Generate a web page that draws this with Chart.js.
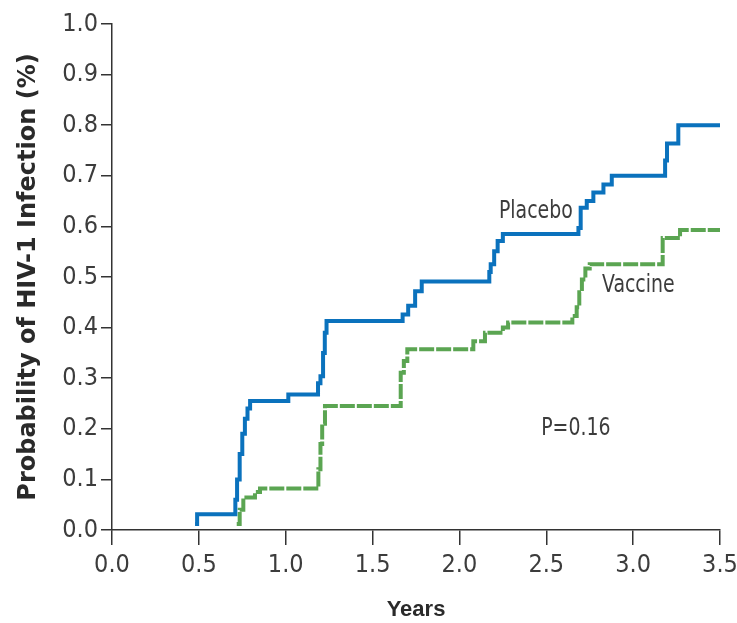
<!DOCTYPE html>
<html>
<head>
<meta charset="utf-8">
<script src="https://cdn.jsdelivr.net/npm/chart.js@4/dist/chart.umd.min.js"></script>
<style>
  html, body { margin: 0; padding: 0; background: #ffffff; }
  #wrap { width: 737px; height: 623px; position: relative; }
</style>
</head>
<body>
<div id="wrap"><canvas id="km"></canvas></div>
<script>
// Cumulative probability of HIV-1 infection (step curves), years since enrollment
const placeboYears = [0.478, 0.49, 0.71, 0.72, 0.735, 0.75, 0.765, 0.78, 0.795, 1.015, 1.186, 1.2, 1.215, 1.225, 1.235,
  1.673, 1.705, 1.745, 1.783, 2.172, 2.18, 2.2, 2.22, 2.25, 2.685, 2.698, 2.733, 2.771, 2.829, 2.877,
  3.184, 3.195, 3.26, 3.5];
const placeboProb = [0.012, 0.031, 0.06, 0.10, 0.15, 0.19, 0.22, 0.24, 0.255, 0.268, 0.29, 0.304, 0.35, 0.39, 0.413,
  0.426, 0.443, 0.472, 0.491, 0.51, 0.525, 0.551, 0.571, 0.585, 0.597, 0.637, 0.65, 0.667, 0.683, 0.70,
  0.73, 0.764, 0.80, 0.80];

const vaccineYears = [0.718, 0.735, 0.756, 0.823, 0.852, 1.188, 1.2, 1.21, 1.226, 1.662, 1.68, 1.70,
  2.08, 2.147, 2.25, 2.28, 2.65, 2.675, 2.69, 2.705, 2.725, 2.75, 3.17, 3.27, 3.5];
const vaccineProb = [0.012, 0.04, 0.064, 0.075, 0.082, 0.12, 0.17, 0.21, 0.245, 0.311, 0.334, 0.357,
  0.373, 0.39, 0.40, 0.41, 0.423, 0.44, 0.47, 0.495, 0.517, 0.525, 0.577, 0.593, 0.593];

const xTickValues = [0, 0.5, 1.0, 1.5, 2.0, 2.5, 3.0, 3.5];
const yTickValues = [0, 0.1, 0.2, 0.3, 0.4, 0.5, 0.6, 0.7, 0.8, 0.9, 1.0];

// In-plot text labels, positioned in data units
const curveLabels = [
  { text: 'Placebo', x: 2.44, y: 0.629 },
  { text: 'Vaccine', x: 3.03, y: 0.484 },
  { text: 'P=0.16', x: 2.67, y: 0.20 }
];

const toPoints = (xs, ys) => xs.map((x, i) => ({ x: x, y: ys[i] }));

const AXIS = '#333333';
const TEXT = '#3c3c3c';
const NARROW = '"DejaVu Sans Condensed", "Liberation Sans Narrow", sans-serif';

const textLabels = {
  id: 'textLabels',
  afterDatasetsDraw(chart) {
    const { ctx, scales: { x, y } } = chart;
    curveLabels.forEach(l => {
      const px = x.getPixelForValue(l.x);
      const py = y.getPixelForValue(l.y);
      ctx.save();
      ctx.translate(px, py);
      ctx.scale(0.84, 1);   // tall, narrow lettering
      ctx.fillStyle = TEXT;
      ctx.font = '25px ' + NARROW;
      ctx.textAlign = 'center';
      ctx.textBaseline = 'middle';
      ctx.fillText(l.text, 0, 0);
      ctx.restore();
    });
  }
};

new Chart(document.getElementById('km'), {
  type: 'line',
  data: {
    datasets: [
      {
        label: 'Placebo',
        data: toPoints(placeboYears, placeboProb),
        borderColor: '#0b72bd',
        borderWidth: 4,
        stepped: true,
        pointRadius: 0,
        fill: false,
        borderCapStyle: 'butt',
        borderJoinStyle: 'miter'
      },
      {
        label: 'Vaccine',
        data: toPoints(vaccineYears, vaccineProb),
        borderColor: '#5ba552',
        borderWidth: 4,
        borderDash: [15, 2],
        stepped: true,
        pointRadius: 0,
        fill: false,
        borderCapStyle: 'butt',
        borderJoinStyle: 'miter'
      }
    ]
  },
  options: {
    responsive: true,
    maintainAspectRatio: false,
    animation: false,
    layout: { padding: { top: 24, right: 17, bottom: 0, left: 0 } },
    plugins: {
      legend: { display: false },
      tooltip: { enabled: false }
    },
    scales: {
      x: {
        type: 'linear',
        min: 0,
        max: 3.5,
        afterBuildTicks: s => { s.ticks = xTickValues.map(v => ({ value: v })); },
        afterFit: s => { s.height = 93; s.paddingRight = 0; s.paddingLeft = 0; },
        ticks: {
          color: TEXT,
          font: { family: NARROW, size: 25 },
          padding: 5,
          maxRotation: 0,
          autoSkip: false,
          callback: v => v.toFixed(1)
        },
        grid: { display: true, drawOnChartArea: false, drawTicks: true, tickLength: 15, color: AXIS, lineWidth: 1.5 },
        border: { display: true, color: AXIS, width: 1.5 },
        title: {
          display: true,
          text: 'Years',
          color: '#2a2a2a',
          font: { family: '"Liberation Sans", Arial, sans-serif', size: 22, weight: 'bold' },
          padding: { top: 0, bottom: 0 }
        }
      },
      y: {
        type: 'linear',
        min: 0,
        max: 1.0,
        afterBuildTicks: s => { s.ticks = yTickValues.map(v => ({ value: v })); },
        afterFit: s => { s.width = 112; },
        ticks: {
          color: TEXT,
          font: { family: NARROW, size: 25 },
          padding: 3,
          autoSkip: false,
          callback: v => v.toFixed(1)
        },
        grid: { display: true, drawOnChartArea: false, drawTicks: true, tickLength: 11, color: AXIS, lineWidth: 1.5 },
        border: { display: true, color: AXIS, width: 1.5 },
        title: {
          display: true,
          text: 'Probability of HIV-1 Infection (%)',
          color: '#2a2a2a',
          font: { family: '"DejaVu Sans", sans-serif', size: 24, weight: 'bold' },
          padding: { top: 14, bottom: 0 }
        }
      }
    }
  },
  plugins: [textLabels]
});
</script>
</body>
</html>
